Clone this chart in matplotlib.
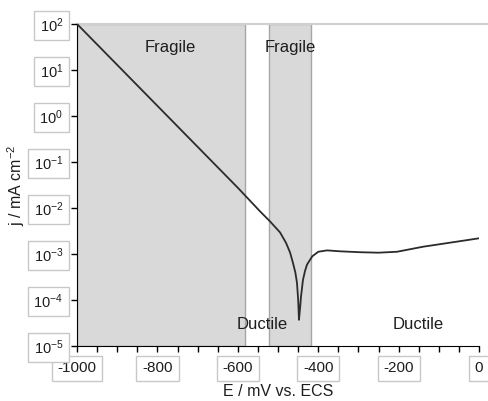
import numpy as np
import matplotlib.pyplot as plt

plt.rcParams['font.family'] = ['Liberation Sans', 'DejaVu Sans']
plt.rcParams['mathtext.fontset'] = 'custom'
plt.rcParams['mathtext.rm'] = 'Liberation Sans'
plt.rcParams['mathtext.it'] = 'Liberation Sans'
plt.rcParams['mathtext.default'] = 'regular'

# potencial (mV vs ECS) y log10 de la densidad de corriente (mA/cm2)
potencial = [-1000, -800, -600, -545, -520, -495, -480, -470, -463, -457, -453, -450, -448,
             -445, -443, -438, -433, -428, -415, -400, -378, -346, -296, -250, -204, -139, -55, -2]
log_j = [2.0, 0.22, -1.56, -2.07, -2.29, -2.53, -2.76, -2.97, -3.19, -3.40, -3.62, -3.99, -4.43,
         -4.15, -3.93, -3.56, -3.37, -3.23, -3.05, -2.95, -2.92, -2.94, -2.96, -2.97, -2.95,
         -2.84, -2.73, -2.66]
corriente = [10 ** v for v in log_j]

zonas_fragiles = [(-1000, -583), (-522, -418)]
etiquetas = [('Fragile', -769, 31.6), ('Fragile', -470, 31.6),
             ('Ductile', -540, 3.0e-5), ('Ductile', -152, 3.0e-5)]

fig = plt.figure(figsize=(4.88, 4.01), dpi=100)
ax = fig.add_axes([0.158, 0.137, 0.8236, 0.803])

for a, b in zonas_fragiles:
    ax.axvspan(a, b, facecolor='#d9d9d9', edgecolor='#a6a6a6', lw=1.0, zorder=0)

ax.plot(potencial, corriente, color='#2b2b2b', lw=1.3, zorder=3)

for texto, x, y in etiquetas:
    ax.text(x, y, texto, ha='center', va='center', fontsize=12, color='#1e1e1e', zorder=4)

ax.set_yscale('log')
ax.set_xlim(-1000, 0)
ax.set_ylim(1e-5, 1e2)

ax.spines['right'].set_visible(False)
ax.spines['top'].set_visible(False)
ax.plot([-1000, 22], [1e2, 1e2], color='#d0d0d0', lw=1.5, clip_on=False, zorder=1)

ax.set_xticks(np.arange(-1000, 1, 200))
ax.set_xticks(np.arange(-1000, 1, 50), minor=True)
ax.set_xticklabels(['-1000', '-800', '-600', '-400', '-200', '0'])
ax.set_yticks([10.0 ** k for k in range(-5, 3)])
ax.set_yticklabels([f'$10^{{{k}}}$' for k in range(-5, 3)])
ax.yaxis.set_minor_locator(plt.NullLocator())

ax.tick_params(axis='both', which='both', direction='out', length=4, width=1,
               labelcolor='#1e1e1e')
ax.tick_params(axis='x', pad=7, labelsize=11)
ax.tick_params(axis='y', pad=6, labelsize=10.5)

caja = dict(boxstyle='square,pad=0.38', facecolor='white', edgecolor='#c8c8c8', lw=1)
for lab in ax.get_xticklabels() + ax.get_yticklabels():
    lab.set_bbox(caja)

ax.set_xlabel('E / mV vs. ECS', fontsize=11.5, labelpad=6, color='#1e1e1e')
ax.set_ylabel('j / mA cm$^{-2}$', fontsize=11.5, labelpad=5, color='#1e1e1e')

fig.savefig('out.png', dpi=100)
